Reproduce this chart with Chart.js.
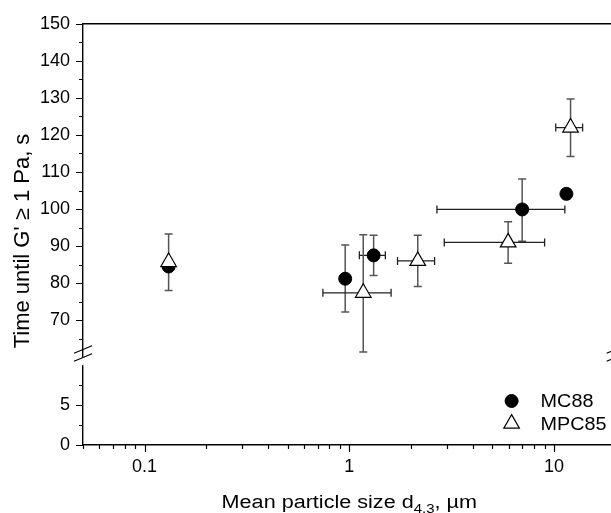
<!DOCTYPE html>
<html lang="en">
<head>
<meta charset="UTF-8">
<title>Time until G' ≥ 1 Pa vs mean particle size</title>
<script src="https://cdn.jsdelivr.net/npm/chart.js"></script>
<style>
  html,body{margin:0;padding:0;background:#fff;overflow:hidden;}
  .wrap{width:611px;height:513px;overflow:hidden;}
  canvas{display:block;}
</style>
</head>
<body>
<div class="wrap"><canvas id="chart" width="640" height="513"></canvas></div>
<script>
// series names
const seriesNames = ['MC88', 'MPC85'];

// MC88 (filled circles)
const mcX = [0.131, 0.955, 1.315, 6.99, 11.5];
const mcY = [84.5, 81.2, 87.5, 99.9, 104.1];
const mcYLow = [null, 72.2, 82.1, 91.3, null];
const mcYHigh = [null, 90.3, 92.9, 108.1, null];
const mcXLow = [null, null, 1.12, 2.68, null];
const mcXHigh = [null, null, 1.50, 11.3, null];

// MPC85 (open triangles)
const mpcX = [0.131, 1.17, 2.16, 5.97, 12.05];
const mpcY = [85.7, 77.4, 86.0, 91.0, 122.0];
const mpcYLow = [78.0, 61.4, 79.1, 85.4, 114.2];
const mpcYHigh = [93.3, 93.1, 92.9, 96.6, 129.7];
const mpcXLow = [null, 0.743, 1.72, 2.91, 10.2];
const mpcXHigh = [null, 1.60, 2.61, 9.0, 13.8];

// tick labels
const xTickLabels = [0.1, 1, 10];
const yUpperTickLabels = [70, 80, 90, 100, 110, 120, 130, 140, 150];
const yLowerTickLabels = [0, 5];

const FONT = "'Liberation Sans', Arial, Helvetica, sans-serif";

// minor tick positions
const xTicksAll = [];
[0.01, 0.1, 1, 10].forEach(d => {
  for (let m = 1; m <= 9; m++) {
    const v = +(d * m).toPrecision(6);
    if (v >= 0.05 - 1e-9 && v <= 20 + 1e-9) xTicksAll.push(v);
  }
});
const yUpperAll = [];
for (let v = 65; v <= 150; v += 5) yUpperAll.push(v);
const yLowerAll = [0, 2.5, 5, 7.5];

function isLabel(list, v) {
  return list.some(t => Math.abs(t - v) <= Math.abs(t) * 1e-6 + 1e-9);
}

function mkData(xs, ys) {
  return xs.map((x, i) => ({x: x, y: ys[i]}));
}

const datasets = [
  {
    label: seriesNames[0],
    data: mkData(mcX, mcY),
    errs: {xLow: mcXLow, xHigh: mcXHigh, yLow: mcYLow, yHigh: mcYHigh},
    pointStyle: 'circle',
    pointRadius: 6.5,
    backgroundColor: '#000',
    borderColor: '#000',
    borderWidth: 1,
    yAxisID: 'y',
    order: 1
  },
  {
    label: seriesNames[1],
    data: mkData(mpcX, mpcY),
    errs: {xLow: mpcXLow, xHigh: mpcXHigh, yLow: mpcYLow, yHigh: mpcYHigh},
    pointStyle: 'triangle',
    pointRadius: 9,
    backgroundColor: '#fff',
    borderColor: '#000',
    borderWidth: 1.2,
    yAxisID: 'y',
    order: 0
  }
];

function stretchText(ctx, txt, x, y, sx) {
  ctx.save();
  ctx.translate(x, y);
  ctx.scale(sx, 1);
  ctx.fillText(txt, 0, 0);
  ctx.restore();
}

const decor = {
  id: 'decor',
  beforeDatasetsDraw(chart) {
    const ctx = chart.ctx;
    const xs = chart.scales.x, ys = chart.scales.y;
    ctx.save();
    chart.data.datasets.forEach(ds => {
      const e = ds.errs;
      ds.data.forEach((p, i) => {
        const px = xs.getPixelForValue(p.x), py = ys.getPixelForValue(p.y);
        if (e.yLow[i] != null) {
          const y1 = ys.getPixelForValue(e.yLow[i]), y2 = ys.getPixelForValue(e.yHigh[i]);
          ctx.strokeStyle = '#555';
          ctx.lineWidth = 1.5;
          ctx.beginPath();
          ctx.moveTo(px, y1); ctx.lineTo(px, y2);
          ctx.moveTo(px - 4, y1); ctx.lineTo(px + 4, y1);
          ctx.moveTo(px - 4, y2); ctx.lineTo(px + 4, y2);
          ctx.stroke();
        }
        if (e.xLow[i] != null) {
          const x1 = xs.getPixelForValue(e.xLow[i]), x2 = xs.getPixelForValue(e.xHigh[i]);
          ctx.strokeStyle = '#222';
          ctx.lineWidth = 1.3;
          ctx.beginPath();
          ctx.moveTo(x1, py); ctx.lineTo(x2, py);
          ctx.moveTo(x1, py - 4); ctx.lineTo(x1, py + 4);
          ctx.moveTo(x2, py - 4); ctx.lineTo(x2, py + 4);
          ctx.stroke();
        }
      });
    });
    ctx.restore();
  },
  afterDraw(chart) {
    const ctx = chart.ctx;
    const area = chart.chartArea;
    const xs = chart.scales.x, ys = chart.scales.y, yl = chart.scales.yLow;
    ctx.save();
    ctx.strokeStyle = '#000';
    ctx.lineWidth = 1.2;
    // tick marks
    ctx.beginPath();
    xs.ticks.forEach(t => {
      const px = Math.round(xs.getPixelForValue(t.value)) + 0.5;
      const len = isLabel(xTickLabels, t.value) ? 7 : 4;
      ctx.moveTo(px, area.bottom); ctx.lineTo(px, area.bottom + len);
    });
    [[ys, yUpperTickLabels], [yl, yLowerTickLabels]].forEach(([s, labs]) => {
      s.ticks.forEach(t => {
        const py = Math.round(s.getPixelForValue(t.value)) + 0.5;
        const len = isLabel(labs, t.value) ? 7 : 4;
        ctx.moveTo(area.left - len, py); ctx.lineTo(area.left, py);
      });
    });
    ctx.stroke();
    // frame top + right
    ctx.lineWidth = 1.4;
    ctx.beginPath();
    ctx.moveTo(area.left, area.top); ctx.lineTo(area.right, area.top); ctx.lineTo(area.right, area.bottom);
    ctx.stroke();
    // axis break marks
    const by = (ys.bottom + yl.top) / 2;
    ctx.lineWidth = 1.2;
    [area.left, area.right].forEach(ax => {
      ctx.beginPath();
      ctx.fillStyle = '#fff';
      ctx.moveTo(ax - 9, by + 3.5); ctx.lineTo(ax + 9, by - 4); ctx.lineTo(ax + 9, by + 4); ctx.lineTo(ax - 9, by + 11.5);
      ctx.closePath();
      ctx.fill();
      ctx.beginPath();
      ctx.moveTo(ax - 9, by - 4); ctx.lineTo(ax + 9, by - 11.5);
      ctx.moveTo(ax - 9, by + 4); ctx.lineTo(ax + 9, by - 3.5);
      ctx.stroke();
    });
    // legend
    ctx.fillStyle = '#000';
    ctx.font = '18px ' + FONT;
    ctx.textBaseline = 'middle';
    ctx.textAlign = 'left';
    chart.data.datasets.forEach((ds, i) => {
      const lx = area.right - 104, ly = area.bottom - 44 + i * 22.6;
      ctx.save();
      ctx.fillStyle = ds.backgroundColor;
      ctx.strokeStyle = ds.borderColor;
      ctx.lineWidth = ds.borderWidth;
      Chart.helpers.drawPoint(ctx, {pointStyle: ds.pointStyle, radius: ds.pointRadius, rotation: 0, borderWidth: ds.borderWidth}, lx, ly);
      ctx.restore();
      ctx.fillStyle = '#000';
      stretchText(ctx, ds.label, lx + 29, ly + 1, 1.1);
    });
    // x axis title with subscript
    const sx = 1.2;
    const parts = [['Mean particle size d', 18, 0], ['4.3', 12.5, 5], [', µm', 18, 0]];
    let total = 0;
    parts.forEach(p => { ctx.font = p[1] + 'px ' + FONT; total += ctx.measureText(p[0]).width * sx; });
    let tx = (area.left + area.right) / 2 - total / 2;
    ctx.textBaseline = 'alphabetic';
    parts.forEach(p => {
      ctx.font = p[1] + 'px ' + FONT;
      stretchText(ctx, p[0], tx, 508 + p[2], sx);
      tx += ctx.measureText(p[0]).width * sx;
    });
    // y axis title
    ctx.font = '22px ' + FONT;
    ctx.textAlign = 'center';
    ctx.translate(29, 241);
    ctx.rotate(-Math.PI / 2);
    ctx.fillText("Time until G' \u2265 1 Pa, s", 0, 0);
    ctx.restore();
  }
};

const tickFont = {family: FONT, size: 18};

new Chart(document.getElementById('chart').getContext('2d'), {
  type: 'scatter',
  data: {datasets: datasets},
  options: {
    responsive: false,
    animation: false,
    events: [],
    layout: {padding: {left: 0, right: 24.4, top: 23, bottom: 0}},
    plugins: {legend: {display: false}, tooltip: {enabled: false}},
    scales: {
      x: {
        type: 'logarithmic',
        min: 0.05,
        max: 20,
        grid: {display: false, drawTicks: false},
        border: {display: true, color: '#000', width: 1.4},
        afterBuildTicks: s => { s.ticks = xTicksAll.map(v => ({value: v})); },
        ticks: {
          color: '#000', font: tickFont, padding: 11, autoSkip: false, maxRotation: 0,
          callback: v => {
            const t = xTickLabels.find(l => isLabel([l], v));
            return t === undefined ? '' : String(t);
          }
        },
        afterFit: s => { s.height = 68; }
      },
      yLow: {
        type: 'linear',
        position: 'left',
        stack: 'v',
        stackWeight: 87.9,
        min: 0,
        max: 11,
        grid: {display: false, drawTicks: false},
        border: {display: true, color: '#000', width: 1.4},
        afterBuildTicks: s => { s.ticks = yLowerAll.map(v => ({value: v})); },
        ticks: {
          color: '#000', font: tickFont, padding: 13, autoSkip: false,
          callback: v => isLabel(yLowerTickLabels, v) ? String(v) : ''
        },
        afterFit: s => { s.width = 83; }
      },
      y: {
        type: 'linear',
        position: 'left',
        stack: 'v',
        stackWeight: 334.1,
        min: 60,
        max: 150,
        grid: {display: false, drawTicks: false},
        border: {display: true, color: '#000', width: 1.4},
        afterBuildTicks: s => { s.ticks = yUpperAll.map(v => ({value: v})); },
        ticks: {
          color: '#000', font: tickFont, padding: 13, autoSkip: false,
          callback: v => isLabel(yUpperTickLabels, v) ? String(v) : ''
        },
        afterFit: s => { s.width = 83; }
      }
    }
  },
  plugins: [decor]
});
</script>
</body>
</html>
